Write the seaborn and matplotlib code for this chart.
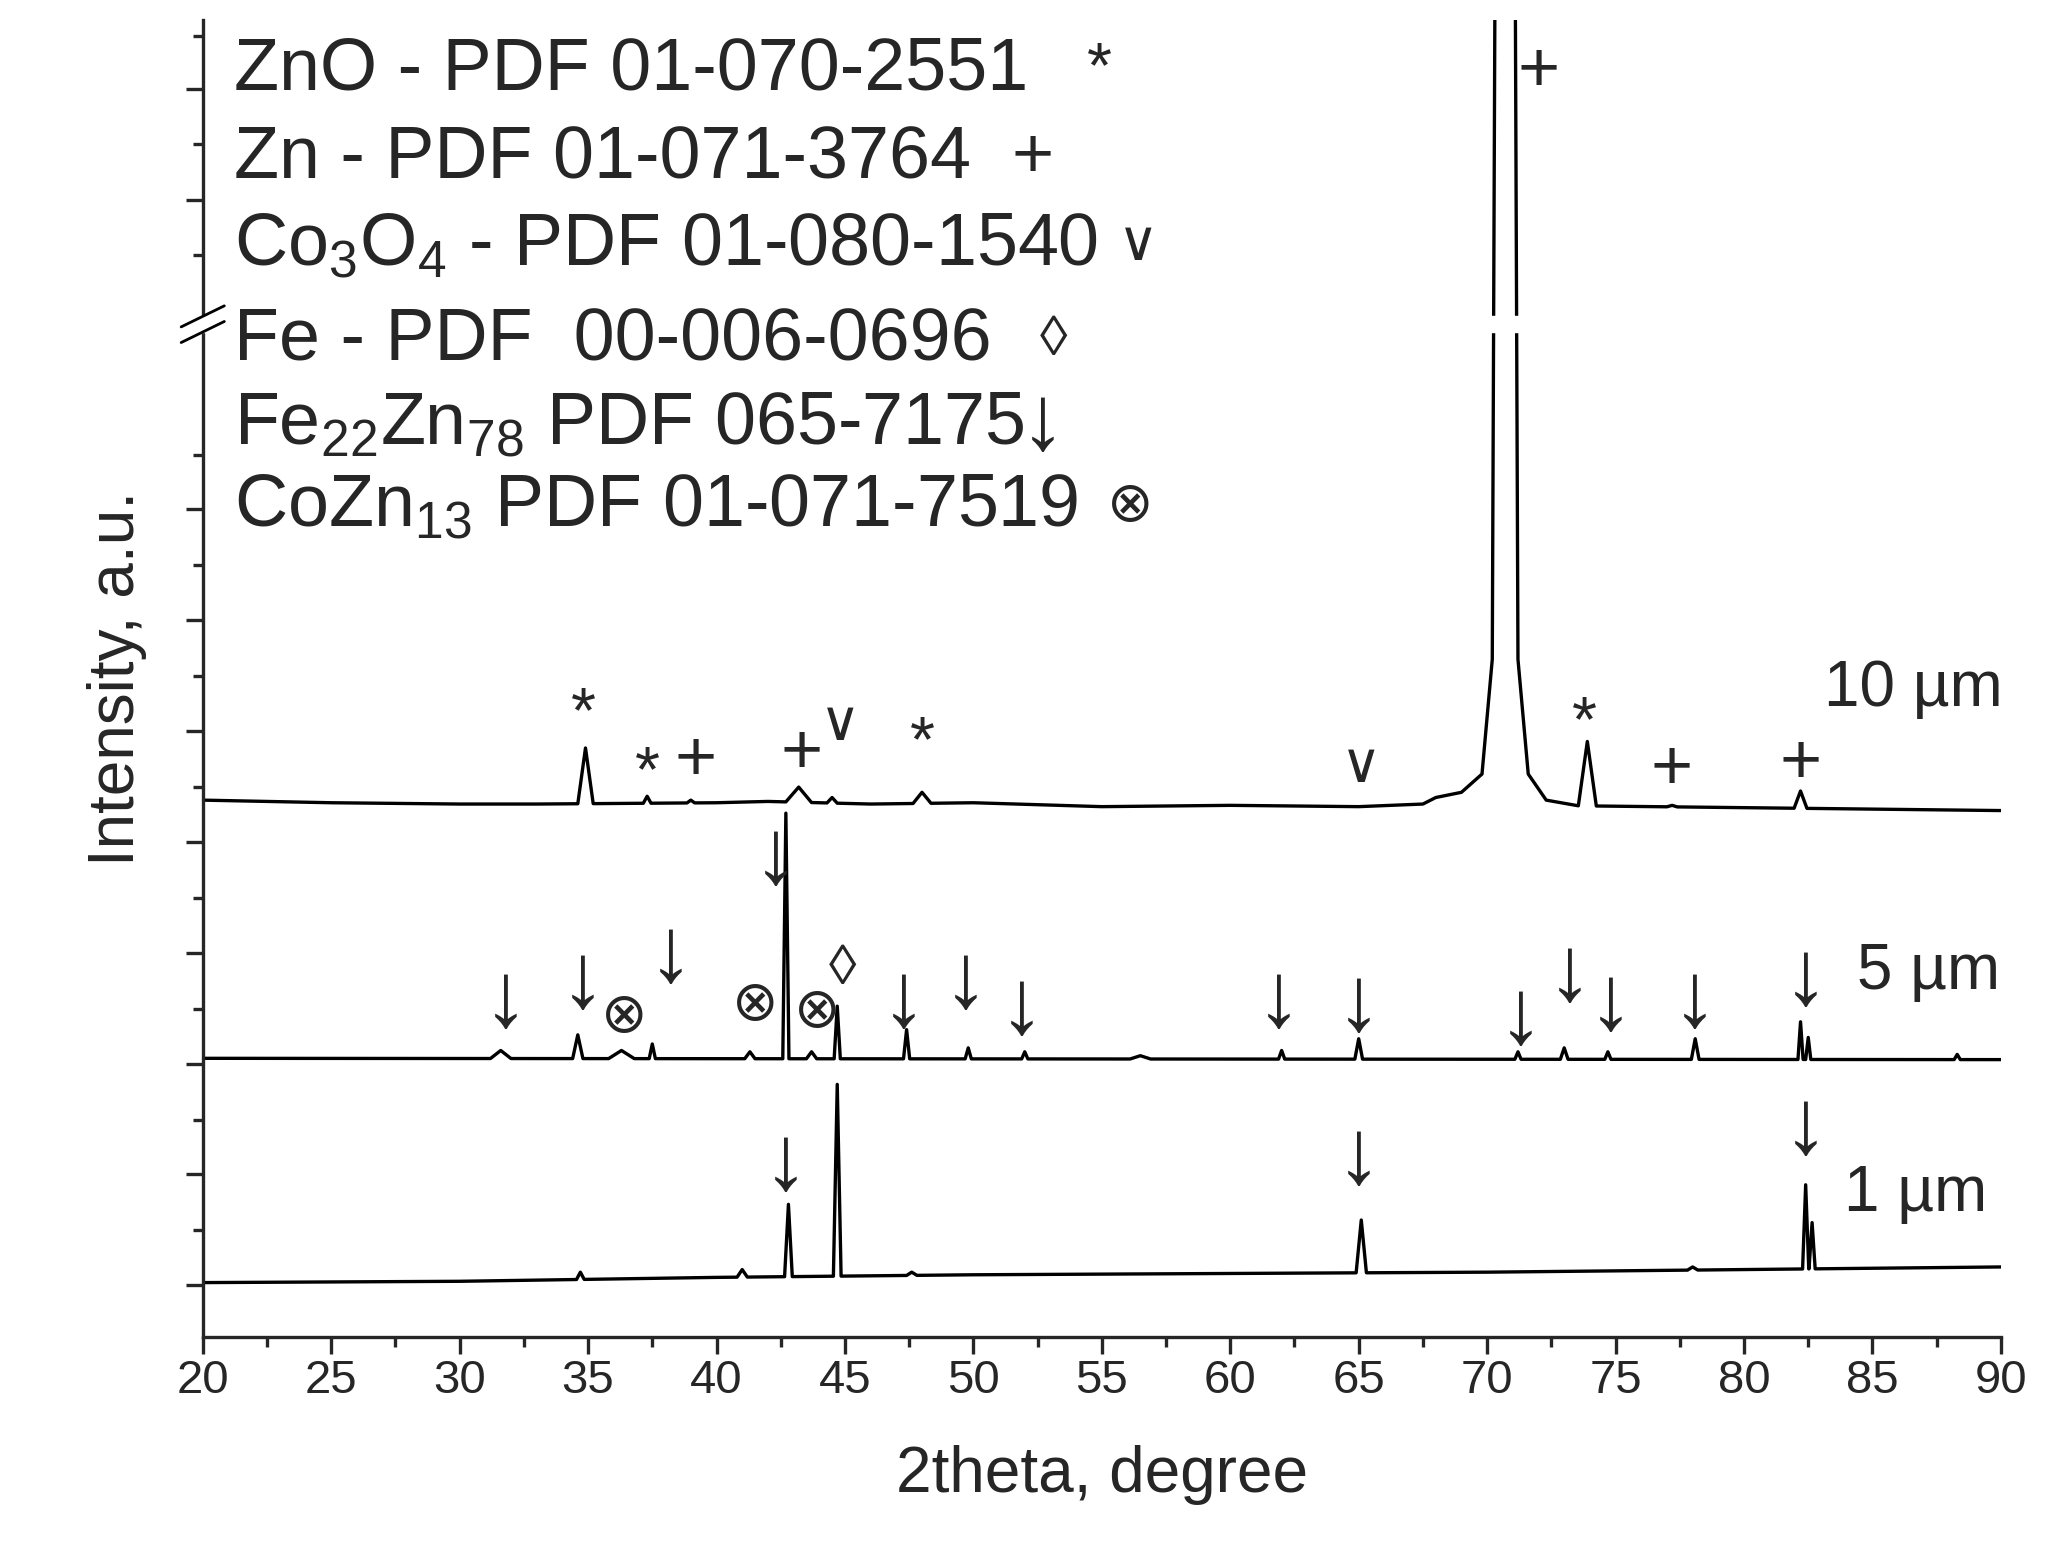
import numpy as np
import pandas as pd
import seaborn as sns
import matplotlib
matplotlib.use('Agg')
import matplotlib.pyplot as plt
from matplotlib.ticker import MultipleLocator, FixedLocator, NullFormatter

sns.set_style("ticks")
plt.rcParams['font.family'] = ['Liberation Sans', 'DejaVu Sans']
plt.rcParams['mathtext.fontset'] = 'custom'
plt.rcParams['mathtext.rm'] = 'Liberation Sans'

# ---- data (intensity in arbitrary units) ----
# 10 um trace
base10 = [(20, 412), (25, 410), (30, 409), (33, 409), (40, 410), (42, 411), (46, 409),
          (50, 410), (55, 407), (60, 408), (65, 407), (67.5, 409), (90, 404)]
peaks10 = [(34.9, 452, 0.3), (37.3, 415, 0.15), (39.0, 412, 0.15), (43.2, 422, 0.5),
           (44.5, 414, 0.2), (48.0, 418, 0.35), (73.9, 457, 0.35), (77.2, 408, 0.2),
           (82.2, 419, 0.25)]
big10 = [(68.0, 414), (69.0, 418), (69.8, 432), (70.2, 520), (70.5, 2000), (70.9, 2000),
         (71.2, 520), (71.6, 432), (72.3, 412)]
# 5 um trace
base5 = [(20, 214), (90, 213)]
peaks5 = [(31.6, 220, 0.4), (34.6, 232, 0.2), (36.3, 220, 0.5), (37.5, 225, 0.12),
          (41.3, 219, 0.2), (42.7, 402, 0.12), (43.7, 219, 0.2), (44.7, 254, 0.12),
          (47.4, 236, 0.12), (49.8, 222, 0.12), (52.0, 219, 0.12), (56.5, 216, 0.4),
          (62.0, 220, 0.12), (65.0, 229, 0.15), (71.2, 219, 0.12), (73.0, 222, 0.15),
          (74.7, 219, 0.12), (78.1, 229, 0.15), (82.2, 242, 0.1), (82.5, 230, 0.1),
          (88.3, 217, 0.12)]
# 1 um trace
base1 = [(20, 42), (30, 43), (40, 46), (50, 48), (60, 49), (70, 50), (80, 52), (90, 54)]
peaks1 = [(34.7, 50, 0.15), (41.0, 52, 0.2), (42.8, 102, 0.15), (44.7, 194, 0.15),
          (47.6, 50, 0.2), (65.1, 90, 0.2), (78.0, 54, 0.2), (82.4, 117, 0.12),
          (82.65, 88, 0.12)]

legend_lines = ["ZnO - PDF 01-070-2551", "Zn - PDF 01-071-3764",
                r"Co$_3$O$_4$ - PDF 01-080-1540", "Fe - PDF  00-006-0696",
                r"Fe$_{22}$Zn$_{78}$ PDF 065-7175", r"CoZn$_{13}$ PDF 01-071-7519"]
legend_y = [972, 904, 837, 764, 700, 637]
legend_sym = ["*", "+", "∨", "◊", "↓", "⊗"]
legend_sym_x = [54.9, 52.3, 56.4, 53.1, 52.7, 56.1]

marks = [("*", 34.8, 477), ("*", 37.3, 432), ("+", 39.2, 442), ("+", 43.3, 447),
         ("∨", 44.8, 469), ("*", 48.0, 455), ("∨", 65.1, 437), ("+", 72.0, 970),
         ("*", 73.8, 470), ("+", 77.2, 435), ("+", 82.2, 439),
         ("↓", 31.8, 257), ("↓", 34.8, 272), ("↓", 38.2, 292), ("↓", 42.3, 367),
         ("↓", 47.3, 257), ("↓", 49.7, 272), ("↓", 51.9, 252), ("↓", 61.9, 257),
         ("↓", 65.0, 254), ("↓", 71.3, 244), ("↓", 73.2, 277), ("↓", 74.8, 255),
         ("↓", 78.1, 257), ("↓", 82.4, 274),
         ("⊗", 36.4, 245), ("⊗", 41.5, 254), ("⊗", 43.9, 249), ("◊", 44.9, 282),
         ("↓", 42.7, 132), ("↓", 65.0, 137), ("↓", 82.4, 160)]
sample_labels = [("10 µm", 83.1, 497), ("5 µm", 84.4, 280), ("1 µm", 83.9, 110)]
sym_size = {"*": 46, "+": 52, "∨": 40, "◊": 40, "↓": 66, "⊗": 40}


def build(base, peaks, extra=()):
    bx, by = zip(*base)
    pts = list(base)
    for c, top, hw in peaks:
        pts.append((c - hw, np.interp(c - hw, bx, by)))
        pts.append((c, top))
        pts.append((c + hw, np.interp(c + hw, bx, by)))
    pts.extend(extra)
    pts.sort()
    return pd.DataFrame(pts, columns=["theta", "intensity"])


fig = plt.figure(figsize=(20.48, 15.66), dpi=100)
ax = fig.add_axes([0.099, 0.146, 0.878, 0.841])

for df in (build(base10, peaks10, big10), build(base5, peaks5), build(base1, peaks1)):
    sns.lineplot(data=df, x="theta", y="intensity", estimator=None, sort=False,
                 color="black", lw=2.4, ax=ax)

ax.set_xlim(20, 90)
ax.set_ylim(0, 1010)
ax.xaxis.set_major_locator(MultipleLocator(5))
ax.xaxis.set_minor_locator(MultipleLocator(2.5))
ax.yaxis.set_major_locator(FixedLocator([40, 125, 210, 295, 380, 465, 550, 635, 872, 957]))
ax.yaxis.set_minor_locator(FixedLocator([82, 167, 252, 337, 422, 507, 592, 677, 830, 915, 998]))
ax.yaxis.set_major_formatter(NullFormatter())
ax.tick_params(axis="both", which="major", direction="out", length=12, width=2.4, labelsize=34)
ax.tick_params(axis="both", which="minor", direction="out", length=7, width=2.4)
for s in ("top", "right"):
    ax.spines[s].set_visible(False)
for s in ("left", "bottom"):
    ax.spines[s].set_linewidth(2.4)
ax.set_xlabel("2theta, degree", fontsize=46, labelpad=30)
ax.set_ylabel("Intensity, a.u.", fontsize=46, labelpad=25)

# axis break
ax.add_patch(plt.Rectangle((69.3, 771), 3.2, 12, color="white", zorder=5))
ax.add_patch(plt.Rectangle((-0.01, 771 / 1010), 0.02, 12 / 1010, color="white",
                           transform=ax.transAxes, clip_on=False, zorder=5))
for yb in (771, 783):
    ax.plot([-0.012, 0.012], [yb / 1010 - 0.008, yb / 1010 + 0.008], color="black",
            lw=2, transform=ax.transAxes, clip_on=False, zorder=6)

sym_family = ['Liberation Sans', 'DejaVu Sans']
for txt, yy, sym, sx in zip(legend_lines, legend_y, legend_sym, legend_sym_x):
    ax.text(21.2, yy, txt, fontsize=53, va="center", ha="left")
    ax.text(sx, yy, sym, fontsize=sym_size[sym], va="center", ha="center",
            family=sym_family)
for sym, xx, yy in marks:
    ax.text(xx, yy, sym, fontsize=sym_size[sym], ha="center", va="center",
            family=sym_family)
for txt, xx, yy in sample_labels:
    ax.text(xx, yy, txt, fontsize=46, ha="left", va="center")

fig.savefig("out.png", dpi=100)
